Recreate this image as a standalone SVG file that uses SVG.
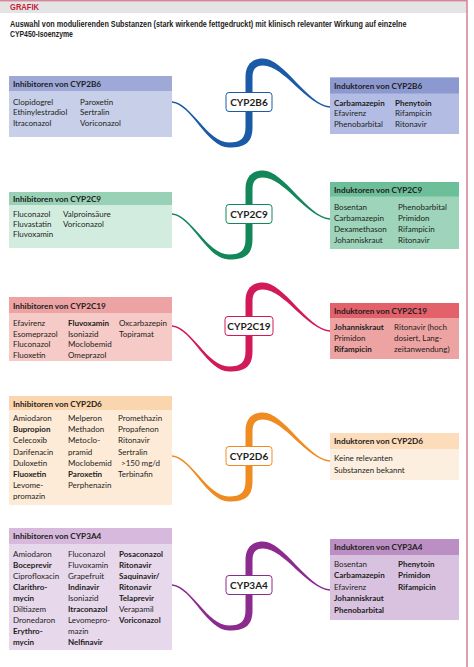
<svg xmlns="http://www.w3.org/2000/svg" xmlns:xlink="http://www.w3.org/1999/xlink" width="474" height="667" viewBox="0 0 474 667">
<defs>
<style>
.t{font-family:Lato,"Liberation Sans",sans-serif;font-size:8px;fill:#1d1d1b}
.b{font-weight:bold}
.h{font-family:Lato,"Liberation Sans",sans-serif;font-size:8.2px;font-weight:bold;fill:#1d1d1b}
.lbl{font-family:Lato,"Liberation Sans",sans-serif;font-size:10px;font-weight:bold;fill:#1d1d1b;text-anchor:middle}
.lb{fill:#fff;stroke-width:1}
.ttl{font-family:"Liberation Sans",sans-serif;font-weight:bold;font-size:8.6px;fill:#1d1d1b}
</style>
<path id="rib" d="M-77,-0.7 C-57,1.3 -42,40.5 -20,40.5 C-8,40.5 -3.5,36 -3.5,25 L-3.5,-25 C-3.5,-37 3,-43.5 14,-43.5 C35,-43.5 58,2.4 81,4.3 L81,5.7 C58,3.8 35,-36.5 14,-36.5 C7,-36.5 3.5,-33 3.5,-25 L3.5,25 C3.5,40 -3,45.5 -20,45.5 C-42,45.5 -57,2.7 -77,0.7 Z"/>
</defs>
<rect x="0" y="0" width="474" height="667" fill="#fff"/>
<g id="frame">
<rect x="0" y="1.5" width="467" height="11.5" fill="#e4e4e4"/>
<line x1="0" y1="0.8" x2="467" y2="0.8" stroke="#d4899b" stroke-width="1.6"/>
<line x1="467" y1="0" x2="467" y2="667" stroke="#d4899b" stroke-width="1.6"/>
<text x="10" y="10" font-family="Liberation Sans,sans-serif" font-weight="bold" font-size="8.5" fill="#c41e3a" textLength="29" lengthAdjust="spacingAndGlyphs">GRAFIK</text>
<text class="ttl" transform="matrix(0.845 0 0 1 10 26.5)">Auswahl von modulierenden Substanzen (stark wirkende fettgedruckt) mit klinisch relevanter Wirkung auf einzelne</text>
<text class="ttl" transform="matrix(0.8 0 0 1 10 36.5)">CYP450-Isoenzyme</text>
</g>
<g id="connectors">
<use xlink:href="#rib" transform="translate(249,102)" fill="#1a5aa6"/>
<use xlink:href="#rib" transform="translate(249,214)" fill="#13875a"/>
<use xlink:href="#rib" transform="translate(249,326)" fill="#d2195a"/>
<use xlink:href="#rib" transform="translate(249,456)" fill="#ef8b21"/>
<use xlink:href="#rib" transform="translate(249,585)" fill="#8c2b8e"/>
</g>
<g id="lbl-2b6"><rect class="lb" x="226" y="92.5" width="46" height="19" rx="3" stroke="#1a5aa6"/><text class="lbl" x="249" y="105.5">CYP2B6</text></g>
<g id="lbl-2c9"><rect class="lb" x="226" y="204.5" width="46" height="19" rx="3" stroke="#13875a"/><text class="lbl" x="249" y="217.5">CYP2C9</text></g>
<g id="lbl-2c19"><rect class="lb" x="225" y="316.5" width="48" height="19" rx="3" stroke="#d2195a"/><text class="lbl" x="249" y="329.5">CYP2C19</text></g>
<g id="lbl-2d6"><rect class="lb" x="226" y="446.5" width="46" height="19" rx="3" stroke="#ef8b21"/><text class="lbl" x="249" y="459.5">CYP2D6</text></g>
<g id="lbl-3a4"><rect class="lb" x="226" y="575.5" width="46" height="19" rx="3" stroke="#8c2b8e"/><text class="lbl" x="249" y="588.5">CYP3A4</text></g>

<g id="inh-2b6">
<rect x="9" y="76" width="163" height="61" fill="#c8cfe8"/><rect x="9" y="76" width="163" height="15" fill="#9ea9d8"/>
<text class="h" x="13" y="87">Inhibitoren von CYP2B6</text>
<text class="t" x="13" y="104.5">Clopidogrel</text><text class="t" x="13" y="115">Ethinylestradiol</text><text class="t" x="13" y="125.5">Itraconazol</text>
<text class="t" x="80" y="104.5">Paroxetin</text><text class="t" x="80" y="115">Sertralin</text><text class="t" x="80" y="125.5">Voriconazol</text>
</g>
<g id="ind-2b6">
<rect x="330" y="77.5" width="129" height="56.5" fill="#b3bce3"/><rect x="330" y="77.5" width="129" height="16" fill="#8c98d0"/>
<text class="h" x="334" y="88.5">Induktoren von CYP2B6</text>
<text class="t b" x="334" y="106">Carbamazepin</text><text class="t" x="334" y="116.3">Efavirenz</text><text class="t" x="334" y="126.6">Phenobarbital</text>
<text class="t b" x="395" y="106">Phenytoin</text><text class="t" x="395" y="116.3">Rifampicin</text><text class="t" x="395" y="126.6">Ritonavir</text>
</g>

<g id="inh-2c9">
<rect x="9" y="192" width="163" height="56" fill="#d3ece0"/><rect x="9" y="192" width="163" height="13" fill="#98d1b6"/>
<text class="h" x="13" y="202">Inhibitoren von CYP2C9</text>
<text class="t" x="13" y="217">Fluconazol</text><text class="t" x="13" y="227">Fluvastatin</text><text class="t" x="13" y="237">Fluvoxamin</text>
<text class="t" x="63" y="217">Valproinsäure</text><text class="t" x="63" y="227">Voriconazol</text>
</g>
<g id="ind-2c9">
<rect x="330" y="182" width="129" height="67" fill="#9dd4ba"/><rect x="330" y="182" width="129" height="14.5" fill="#6dbf99"/>
<text class="h" x="334" y="193">Induktoren von CYP2C9</text>
<text class="t" x="334" y="210">Bosentan</text><text class="t" x="334" y="221">Carbamazepin</text><text class="t" x="334" y="232.2">Dexamethason</text><text class="t" x="334" y="243.3">Johanniskraut</text>
<text class="t" x="398" y="210">Phenobarbital</text><text class="t" x="398" y="221">Primidon</text><text class="t" x="398" y="232.2">Rifampicin</text><text class="t" x="398" y="243.3">Ritonavir</text>
</g>

<g id="inh-2c19">
<rect x="9" y="297" width="163" height="64" fill="#f6cac6"/><rect x="9" y="297" width="163" height="16" fill="#eda3a3"/>
<text class="h" x="13" y="308.5">Inhibitoren von CYP2C19</text>
<text class="t" x="13" y="326">Efavirenz</text><text class="t" x="13" y="336.5">Esomeprazol</text><text class="t" x="13" y="347">Fluconazol</text><text class="t" x="13" y="357.5">Fluoxetin</text>
<text class="t b" x="68" y="326">Fluvoxamin</text><text class="t" x="68" y="336.5">Isoniazid</text><text class="t" x="68" y="347">Moclobemid</text><text class="t" x="68" y="357.5">Omeprazol</text>
<text class="t" x="119" y="326">Oxcarbazepin</text><text class="t" x="119" y="336.5">Topiramat</text>
</g>
<g id="ind-2c19">
<rect x="330" y="303" width="129" height="56" fill="#eea3a3"/><rect x="330" y="303" width="129" height="15" fill="#e2616b"/>
<text class="h" x="334" y="313.5">Induktoren von CYP2C19</text>
<text class="t b" x="334" y="330">Johanniskraut</text><text class="t" x="334" y="341">Primidon</text><text class="t b" x="334" y="352">Rifampicin</text>
<text class="t" x="394" y="330">Ritonavir (hoch</text><text class="t" x="394" y="341">dosiert, Lang-</text><text class="t" x="394" y="352">zeitanwendung)</text>
</g>

<g id="inh-2d6">
<rect x="9" y="396" width="163" height="109" fill="#fdebd7"/><rect x="9" y="396" width="163" height="14" fill="#fbd5ad"/>
<text class="h" x="13" y="406.5">Inhibitoren von CYP2D6</text>
<text class="t" x="13" y="421">Amiodaron</text><text class="t b" x="13" y="432.2">Bupropion</text><text class="t" x="13" y="443.4">Celecoxib</text><text class="t" x="13" y="454.6">Darifenacin</text><text class="t" x="13" y="465.8">Duloxetin</text><text class="t b" x="13" y="477">Fluoxetin</text><text class="t" x="13" y="488.2">Levome-</text><text class="t" x="13" y="499.4">promazin</text>
<text class="t" x="68" y="421">Melperon</text><text class="t" x="68" y="432.2">Methadon</text><text class="t" x="68" y="443.4">Metoclo-</text><text class="t" x="68" y="454.6">pramid</text><text class="t" x="68" y="465.8">Moclobemid</text><text class="t b" x="68" y="477">Paroxetin</text><text class="t" x="68" y="488.2">Perphenazin</text>
<text class="t" x="118" y="421">Promethazin</text><text class="t" x="118" y="432.2">Propafenon</text><text class="t" x="118" y="443.4">Ritonavir</text><text class="t" x="118" y="454.6">Sertralin</text><text class="t" x="121" y="465.8">&gt;150 mg/d</text><text class="t" x="118" y="477">Terbinafin</text>
</g>
<g id="ind-2d6">
<rect x="330" y="433" width="129" height="47" fill="#fdefe0"/><rect x="330" y="433" width="129" height="16" fill="#fcdcbb"/>
<text class="h" x="334" y="444">Induktoren von CYP2D6</text>
<text class="t" x="334" y="461">Keine relevanten</text><text class="t" x="334" y="472.5">Substanzen bekannt</text>
</g>

<g id="inh-3a4">
<rect x="9" y="528" width="163" height="122" fill="#e7d8eb"/><rect x="9" y="528" width="163" height="16" fill="#d6b9dc"/>
<text class="h" x="13" y="539">Inhibitoren von CYP3A4</text>
<text class="t" x="13" y="556.5">Amiodaron</text><text class="t b" x="13" y="567.5">Boceprevir</text><text class="t" x="13" y="578.5">Ciprofloxacin</text><text class="t b" x="13" y="589.5">Clarithro-</text><text class="t b" x="13" y="600.5">mycin</text><text class="t" x="13" y="611.5">Diltiazem</text><text class="t" x="13" y="622.5">Dronedaron</text><text class="t b" x="13" y="633.5">Erythro-</text><text class="t b" x="13" y="644.5">mycin</text>
<text class="t" x="68" y="556.5">Fluconazol</text><text class="t" x="68" y="567.5">Fluvoxamin</text><text class="t" x="68" y="578.5">Grapefruit</text><text class="t b" x="68" y="589.5">Indinavir</text><text class="t" x="68" y="600.5">Isoniazid</text><text class="t b" x="68" y="611.5">Itraconazol</text><text class="t" x="68" y="622.5">Levomepro-</text><text class="t" x="68" y="633.5">mazin</text><text class="t b" x="68" y="644.5">Nelfinavir</text>
<text class="t b" x="119" y="556.5">Posaconazol</text><text class="t b" x="119" y="567.5">Ritonavir</text><text class="t b" x="119" y="578.5">Saquinavir/</text><text class="t b" x="119" y="589.5">Ritonavir</text><text class="t b" x="119" y="600.5">Telaprevir</text><text class="t" x="119" y="611.5">Verapamil</text><text class="t b" x="119" y="622.5">Voriconazol</text>
</g>
<g id="ind-3a4">
<rect x="330" y="539" width="129" height="81" fill="#d9c2e0"/><rect x="330" y="539" width="129" height="16" fill="#bb8fc3"/>
<text class="h" x="334" y="549.5">Induktoren von CYP3A4</text>
<text class="t" x="334" y="567">Bosentan</text><text class="t b" x="334" y="578.4">Carbamazepin</text><text class="t" x="334" y="589.8">Efavirenz</text><text class="t b" x="334" y="601.2">Johanniskraut</text><text class="t b" x="334" y="612.6">Phenobarbital</text>
<text class="t b" x="398" y="567">Phenytoin</text><text class="t b" x="398" y="578.4">Primidon</text><text class="t b" x="398" y="589.8">Rifampicin</text>
</g>
</svg>
